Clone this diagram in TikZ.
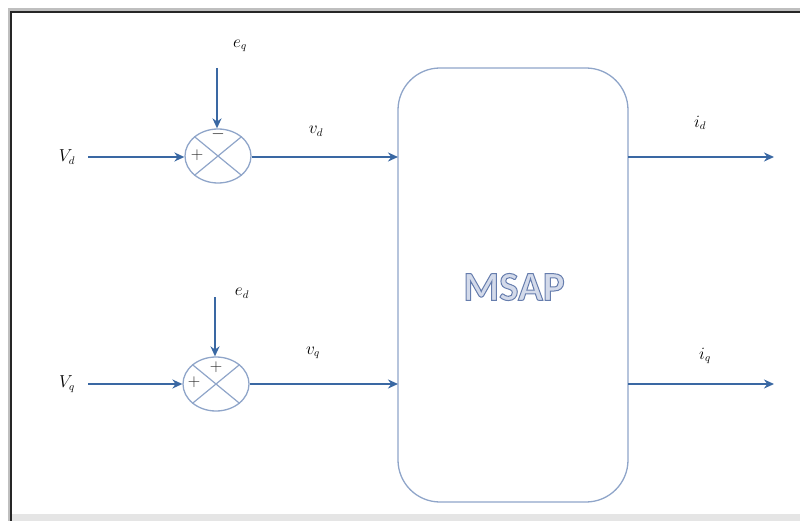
\documentclass[tikz,border=0pt]{standalone}
\usepackage{fontspec}
\usetikzlibrary{arrows.meta,shapes.geometric}
\newfontfamily\labelsans{Carlito}
\definecolor{flowblue}{HTML}{3A68A3}
\definecolor{rimblue}{HTML}{8FA5C9}
\definecolor{plantfill}{HTML}{D3DAEA}
% outlined lettering: fill and stroke (text render mode 2)
\newcommand{\outlinedtext}[1]{%
  \textcolor{plantfill}{\special{pdf:literal direct 2 Tr 1.0 w 0.40 0.49 0.68 RG}#1\special{pdf:literal direct 0 Tr}}}
\tikzset{
  flow/.style={draw=flowblue, line width=2.4pt, -{Stealth[length=10pt,width=9pt]}},
  sumjunction/.style={ellipse, draw=rimblue, line width=1.3pt, minimum width=66pt, minimum height=54pt, inner sep=0pt},
  plant/.style={draw=rimblue, line width=1.3pt, rounded corners=42pt},
  sig/.style={font=\fontsize{16}{18}\selectfont, inner sep=0pt},
  sign/.style={font=\fontsize{16}{16}\selectfont, text=black!85, inner sep=0pt}
}
\begin{document}
\begin{tikzpicture}[x=1pt,y=-1pt]
\useasboundingbox (0,0) rectangle (800,521);
% page frame with soft shadow
\fill[black!10] (11,514) rectangle (800,521);
\draw[black!25, line width=3pt] (9,523) -- (9,10) -- (802,10);
\draw[black!85, line width=1.6pt] (11,523) -- (11,12) -- (802,12);

% summing junctions
\node[sumjunction] (s1) at (218,156) {};
\node[sumjunction] (s2) at (216,384) {};
\foreach \s in {s1,s2}{
  \draw[rimblue, line width=1.2pt] (\s.north west) -- (\s.south east);
  \draw[rimblue, line width=1.2pt] (\s.north east) -- (\s.south west);
}
\node[sign] (p1) at (197,155) {$+$};
\node[sign] (m1) at (218,134) {$-$};
\node[sign] (p2) at (194,382) {$+$};
\node[sign] (p3) at (216,367) {$+$};

% plant block
\draw[plant] (398,68) rectangle (628,502);
\coordinate (plantW) at (398,0);
\coordinate (plantE) at (628,0);
\node[inner sep=0pt] (msap) at (514,287) {\labelsans\bfseries\fontsize{41}{48}\selectfont\outlinedtext{MSAP}};

% signal labels
\node[sig] (Vd) at (67,157) {$V_d$};
\node[sig] (Vq) at (67,384) {$V_q$};
\node[sig] (eq) at (240,46) {$e_q$};
\node[sig] (ed) at (242,293) {$e_d$};
\node[sig] (vd) at (316,131) {$v_d$};
\node[sig] (vq) at (313,353) {$v_q$};
\node[sig] (id) at (700,123) {$i_d$};
\node[sig] (iq) at (705,356) {$i_q$};

% free ends of the connectors
\coordinate (vdin) at (88,157);
\coordinate (vqin) at (88,384);
\coordinate (eqin) at (217,68);
\coordinate (edin) at (215,297);
\coordinate (idout) at (774,157);
\coordinate (iqout) at (774,384);

% connectors
\draw[flow] (vdin) -- (s1.west |- vdin);
\draw[flow] (vqin) -- (s2.west |- vqin);
\draw[flow] (eqin) -- (eqin |- s1.north);
\draw[flow] (edin) -- (edin |- s2.north);
\draw[flow] (s1.east |- vdin) -- (plantW |- vdin);
\draw[flow] (s2.east |- vqin) -- (plantW |- vqin);
\draw[flow] (plantE |- idout) -- (idout);
\draw[flow] (plantE |- iqout) -- (iqout);
\end{tikzpicture}
\end{document}
